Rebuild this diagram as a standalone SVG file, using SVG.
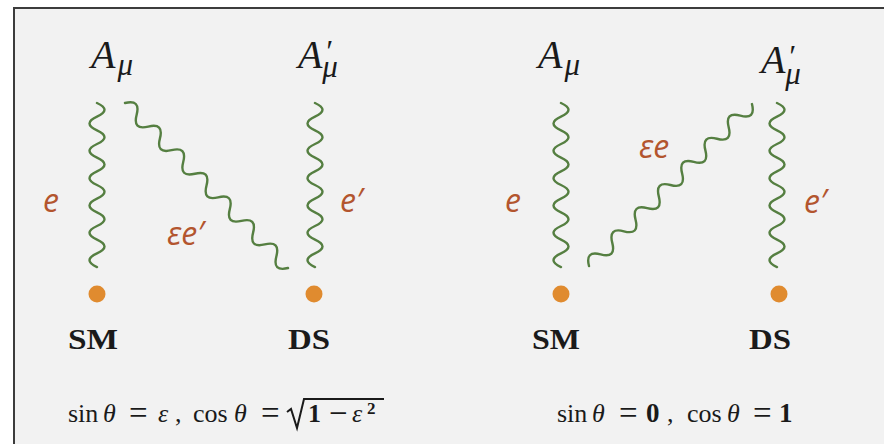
<svg xmlns="http://www.w3.org/2000/svg" width="884" height="444" viewBox="0 0 884 444">
  <style>
    .wave { fill: none; stroke: #557f41; stroke-width: 2.4; stroke-linecap: round; stroke-linejoin: round; }
    .dot { fill: #e08b2f; }
    .field { font-family: "Liberation Serif", "DejaVu Serif", serif; font-style: italic; font-size: 40px; fill: #1a1a1a; }
    .sub { font-size: 31px; }
    .coup { font-family: "Open Sans", "DejaVu Sans", sans-serif; font-style: italic; font-size: 32px; fill: #b3552e; }
    .sect { font-family: "Liberation Serif", "DejaVu Serif", serif; font-weight: bold; font-size: 30px; fill: #1a1a1a; }
    .fm { font-family: "Liberation Serif", "DejaVu Serif", serif; font-size: 26px; fill: #1a1a1a; }
    .it { font-style: italic; }
    .bd { font-weight: bold; }
    .eq { font-size: 33px; }
  </style>
  <rect x="0" y="0" width="884" height="444" fill="#ffffff"/>
  <rect x="14" y="8" width="900" height="500" fill="#f2f2f2" stroke="#3c3c3c" stroke-width="2"/>

  <g id="connectors">
    <path class="wave" d="M97,103 q15,6.83 0,13.67 t0,13.67 t0,13.67 t0,13.67 t0,13.67 t0,13.67 t0,13.67 t0,13.67 t0,13.67 t0,13.67 t0,13.67 t0,13.67"/>
    <path class="wave" transform="translate(125,103) rotate(45.35)" d="M0,0 q8.28,-14 16.57,0 t16.57,0 t16.57,0 t16.57,0 t16.57,0 t16.57,0 t16.57,0 t16.57,0 t16.57,0 t16.57,0 t16.57,0 t16.57,0 t16.57,0 t16.57,0"/>
    <path class="wave" d="M315,103 q15,6.83 0,13.67 t0,13.67 t0,13.67 t0,13.67 t0,13.67 t0,13.67 t0,13.67 t0,13.67 t0,13.67 t0,13.67 t0,13.67 t0,13.67"/>
    <path class="wave" d="M561,103 q15,6.83 0,13.67 t0,13.67 t0,13.67 t0,13.67 t0,13.67 t0,13.67 t0,13.67 t0,13.67 t0,13.67 t0,13.67 t0,13.67 t0,13.67"/>
    <path class="wave" transform="translate(589,266) rotate(-44.82)" d="M0,0 q8.2,-14 16.41,0 t16.41,0 t16.41,0 t16.41,0 t16.41,0 t16.41,0 t16.41,0 t16.41,0 t16.41,0 t16.41,0 t16.41,0 t16.41,0 t16.41,0 t16.41,0"/>
    <path class="wave" d="M777,103 q15,6.83 0,13.67 t0,13.67 t0,13.67 t0,13.67 t0,13.67 t0,13.67 t0,13.67 t0,13.67 t0,13.67 t0,13.67 t0,13.67 t0,13.67"/>
  </g>

  <g id="coupling-labels">
    <text class="coup" x="43" y="212">e</text>
    <text class="coup" x="167" y="245">εe′</text>
    <text class="coup" x="340" y="212">e′</text>
    <text class="coup" x="505" y="212">e</text>
    <text class="coup" x="639" y="158">εe</text>
    <text class="coup" x="804" y="213">e′</text>
  </g>

  <g id="A-left">
    <text class="field" x="91" y="68">A<tspan class="sub" dx="2" dy="7">μ</tspan></text>
  </g>
  <g id="Aprime-left">
    <text class="field" x="298" y="68">A<tspan class="sub" dx="2" dy="-6">′</tspan><tspan class="sub" dx="-9" dy="15">μ</tspan></text>
  </g>
  <g id="A-right">
    <text class="field" x="538" y="68">A<tspan class="sub" dx="2" dy="7">μ</tspan></text>
  </g>
  <g id="Aprime-right">
    <text class="field" x="761" y="73">A<tspan class="sub" dx="2" dy="-6">′</tspan><tspan class="sub" dx="-9" dy="17">μ</tspan></text>
  </g>

  <g id="SM-left">
    <circle class="dot" cx="97" cy="294" r="8.5"/>
    <text class="sect" x="68" y="349" textLength="50" lengthAdjust="spacingAndGlyphs">SM</text>
  </g>
  <g id="DS-left">
    <circle class="dot" cx="314" cy="294" r="8.5"/>
    <text class="sect" x="288" y="349" textLength="42" lengthAdjust="spacingAndGlyphs">DS</text>
  </g>
  <g id="SM-right">
    <circle class="dot" cx="561" cy="294" r="8.5"/>
    <text class="sect" x="532" y="349" textLength="48" lengthAdjust="spacingAndGlyphs">SM</text>
  </g>
  <g id="DS-right">
    <circle class="dot" cx="779" cy="294" r="8.5"/>
    <text class="sect" x="749" y="349" textLength="42" lengthAdjust="spacingAndGlyphs">DS</text>
  </g>

  <g id="formula-left" class="fm">
    <text x="68" y="422">sin</text>
    <text class="it" x="103" y="422">θ</text>
    <text class="eq" x="129" y="424">=</text>
    <text class="it" x="158" y="422">ε</text>
    <text x="175" y="422">,</text>
    <text x="193" y="422">cos</text>
    <text class="it" x="234" y="422">θ</text>
    <text class="eq" x="261" y="424">=</text>
    <path d="M287,412 L291,409 L297,428 L304,399 L384,399" fill="none" stroke="#1a1a1a" stroke-width="2"/>
    <text class="bd" x="308" y="422">1</text>
    <text class="eq" x="329" y="424">−</text>
    <text class="it" x="352" y="422">ε</text>
    <text class="bd" x="367" y="414" font-size="17">2</text>
  </g>

  <g id="formula-right" class="fm">
    <text x="557" y="422">sin</text>
    <text class="it" x="592" y="422">θ</text>
    <text class="eq" x="619" y="424">=</text>
    <text class="bd" x="646" y="422" font-size="27">0</text>
    <text x="667" y="422">,</text>
    <text x="687" y="422">cos</text>
    <text class="it" x="727" y="422">θ</text>
    <text class="eq" x="753" y="424">=</text>
    <text class="bd" x="779" y="422" font-size="27">1</text>
  </g>
</svg>
